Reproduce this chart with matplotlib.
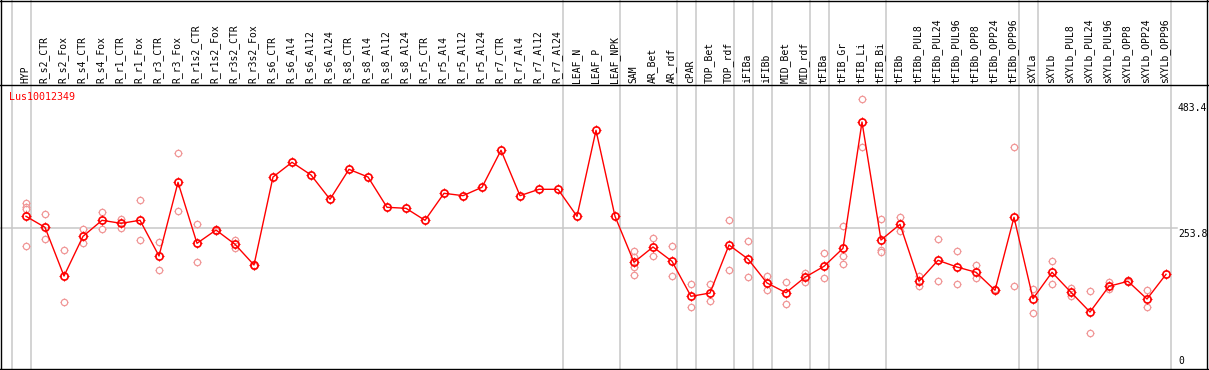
import numpy as np
import matplotlib
matplotlib.use("Agg")
import matplotlib.pyplot as plt
from matplotlib.path import Path

gene = "Lus10012349"

samples = ["HYP", "R_s2_CTR", "R_s2_Fox", "R_s4_CTR", "R_s4_Fox", "R_r1_CTR", "R_r1_Fox",
           "R_r3_CTR", "R_r3_Fox", "R_r1s2_CTR", "R_r1s2_Fox", "R_r3s2_CTR", "R_r3s2_Fox",
           "R_s6_CTR", "R_s6_Al4", "R_s6_Al12", "R_s6_Al24", "R_s8_CTR", "R_s8_Al4",
           "R_s8_Al12", "R_s8_Al24", "R_r5_CTR", "R_r5_Al4", "R_r5_Al12", "R_r5_Al24",
           "R_r7_CTR", "R_r7_Al4", "R_r7_Al12", "R_r7_Al24", "LEAF_N", "LEAF_P", "LEAF_NPK",
           "SAM", "AR_Bet", "AR_rdf", "cPAR", "TOP_Bet", "TOP_rdf", "iFIBa", "iFIBb",
           "MID_Bet", "MID_rdf", "tFIBa", "tFIB_Gr", "tFIB_Li", "tFIB_Bi", "tFIBb",
           "tFIBb_PUL8", "tFIBb_PUL24", "tFIBb_PUL96", "tFIBb_OPP8", "tFIBb_OPP24",
           "tFIBb_OPP96", "sXYLa", "sXYLb", "sXYLb_PUL8", "sXYLb_PUL24", "sXYLb_PUL96",
           "sXYLb_OPP8", "sXYLb_OPP24", "sXYLb_OPP96"]

means = [275.5, 255.4, 166.7, 239.0, 268.2, 262.7, 268.2, 203.2, 337.4, 226.3, 250.5,
         224.5, 186.8, 347.1, 373.9, 350.8, 306.5, 361.1, 347.1, 291.9, 290.1, 268.2,
         317.4, 313.1, 328.4, 395.8, 313.1, 324.7, 324.7, 275.5, 432.2, 275.5, 191.7,
         219.6, 193.5, 129.7, 135.7, 223.2, 197.7, 154.0, 136.3, 164.4, 184.4, 217.2,
         447.3, 232.3, 260.9, 157.1, 195.3, 183.1, 173.5, 140.7, 273.7, 125.4, 173.5,
         137.0, 101.1, 148.0, 157.1, 124.8, 169.8]

replicates = [[300, 292, 288, 222], [279, 234], [214, 119], [252, 226], [283, 253],
              [271, 255], [305, 232], [228, 177], [390, 285], [261, 192], [253, 248],
              [232, 218], [189, 185],
              [], [], [], [], [], [], [], [], [], [], [], [], [], [], [], [], [], [], [],
              [212, 202, 183, 168], [236, 204], [221, 167], [152, 110], [152, 121],
              [268, 177], [230, 165], [166, 141], [156, 115], [173, 156], [208, 163],
              [258, 204, 189], [490, 402], [270, 215, 211], [274, 249], [167, 148],
              [234, 157], [212, 153], [187, 163], [143], [401, 149], [143, 99],
              [194, 153], [144, 131], [139, 62], [155, 143], [159, 155], [141, 110], []]

# last sample index of each group (gray separators)
group_ends = [-1, 0, 28, 31, 34, 35, 37, 38, 39, 41, 42, 45, 52, 53, 60]
y_ticks = [0, 253.8, 483.4]

RED = "#ff0000"
PINK = "#f09696"
GRAY = "#c8c8c8"
MONO = "DejaVu Sans Mono"

# little crosshair spikes around the circle markers
spikes = Path([(0, 0.7), (0, 1), (0, -0.7), (0, -1), (0.7, 0), (1, 0), (-0.7, 0), (-1, 0)],
              [Path.MOVETO, Path.LINETO] * 4)

fig = plt.figure(figsize=(12.09, 3.70), dpi=100)
ax = fig.add_axes([0, 0, 1, 1])
ax.set_xlim(-26 / 19, (1209 - 26) / 19)
ax.set_ylim(-2.5 / 0.5488, 367.5 / 0.5488)
ax.axis("off")

x = np.arange(len(samples))

for g in group_ends:
    ax.axvline(g + 0.24, color=GRAY, lw=1.1, zorder=1)
ax.plot([-26 / 19, 1177 / 19 - 26 / 19], [253.8, 253.8], color=GRAY, lw=1.1, zorder=1)

# replicates
rx = [i for i, r in enumerate(replicates) for _ in r]
ry = [v for r in replicates for v in r]
ax.plot(rx, ry, ls="none", marker="o", ms=4.6, mfc="white", mec=PINK, mew=0.9, zorder=2)
ax.plot(rx, ry, ls="none", marker=spikes, ms=6.2, mec=PINK, mew=0.7, zorder=2)

# mean line
ax.plot(x, means, color=RED, lw=1.0, zorder=3)
ax.plot(x, means, ls="none", marker="o", ms=5.2, mfc="none", mec=RED, mew=1.2, zorder=4)
ax.plot(x, means, ls="none", marker=spikes, ms=7.0, mec=RED, mew=0.8, zorder=4)

# header labels
for i, s in enumerate(samples):
    ax.text(i - 0.05, (367.5 - 83) / 0.5488, s, rotation=90, ha="center", va="bottom",
            fontsize=7, family=MONO, color="black")

ax.text(9 / 19 - 26 / 19, (367.5 - 97) / 0.5488, gene, ha="left", va="center",
        fontsize=7.2, family=MONO, color=RED)

for v in y_ticks:
    if v == 0:
        ax.text(1178 / 19 - 26 / 19, 2.5, "0", ha="left", va="bottom", fontsize=7, family=MONO)
    else:
        ax.text(1178 / 19 - 26 / 19, v - 1.5, f"{v:.1f}", ha="left", va="top", fontsize=7, family=MONO)

# frame and header separator
tr = ax.transAxes
for xs, ys in [([1 / 1209, 1 / 1209], [0, 1]), ([1207 / 1209, 1207 / 1209], [0, 1]),
               ([0, 1], [1 - 0.6 / 370, 1 - 0.6 / 370]), ([0, 1], [1 - 368.5 / 370, 1 - 368.5 / 370]),
               ([0, 1], [1 - 85 / 370, 1 - 85 / 370])]:
    ax.plot(xs, ys, color="black", lw=1.0, transform=tr, zorder=5, clip_on=False)

fig.savefig("out.png", dpi=100)
